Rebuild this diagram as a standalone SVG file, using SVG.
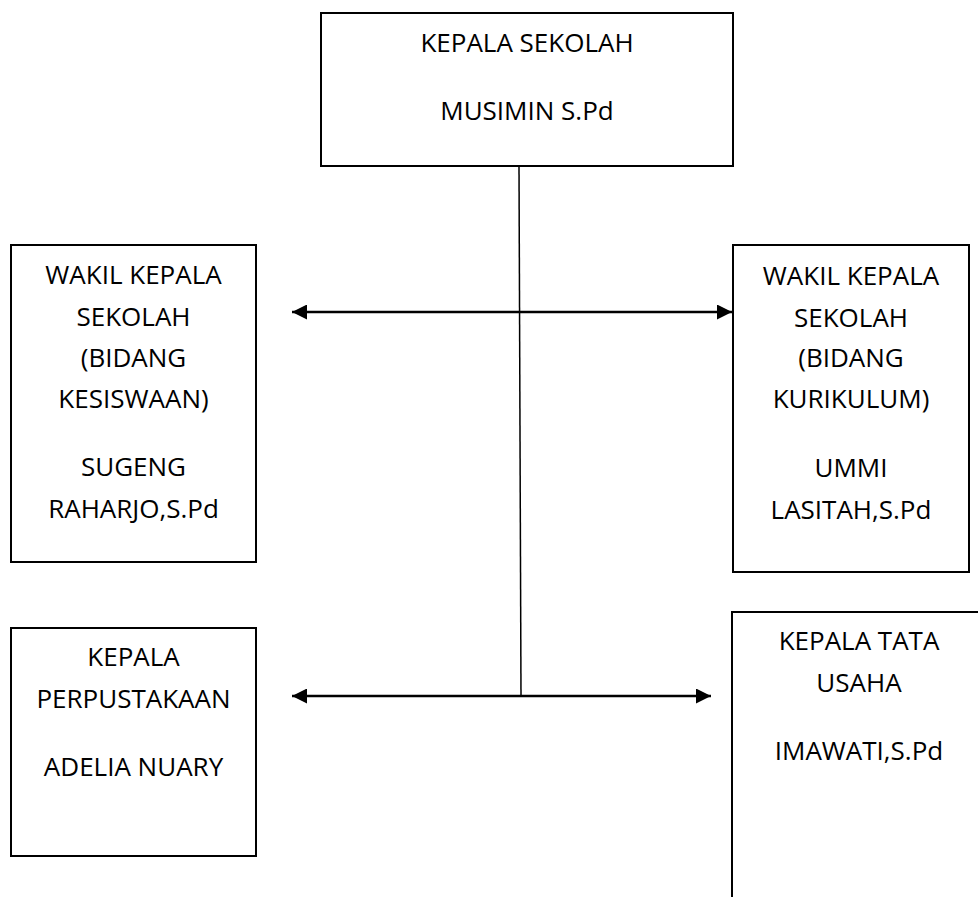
<svg xmlns="http://www.w3.org/2000/svg" width="978" height="897" viewBox="0 0 978 897">
<style>
.box{fill:#fff;stroke:#000;stroke-width:2}
.t{font-family:"Open Sans","Noto Sans",sans-serif;font-size:26px;fill:#000;text-anchor:middle}
.ln{stroke:#000;stroke-width:1.5;fill:none}
.ar{stroke:#000;stroke-width:2.5;fill:none}
</style>
<defs>
<marker id="ah" markerUnits="userSpaceOnUse" viewBox="0 0 15 15" markerWidth="15" markerHeight="15" refX="15" refY="7.5" orient="auto-start-reverse">
<path d="M0,0 L15,7.5 L0,15 Z" fill="#000"/>
</marker>
</defs>
<rect width="978" height="897" fill="#fff"/>
<g id="connectors">
<line class="ln" x1="519" y1="166" x2="521" y2="696"/>
<line class="ar" x1="292" y1="312" x2="732" y2="312" marker-start="url(#ah)" marker-end="url(#ah)"/>
<line class="ar" x1="292" y1="696" x2="711" y2="696" marker-start="url(#ah)" marker-end="url(#ah)"/>
</g>
<g id="kepala-sekolah">
<rect class="box" x="321" y="13" width="412" height="153"/>
<text class="t" x="527" y="52">KEPALA SEKOLAH</text>
<text class="t" x="527" y="120">MUSIMIN S.Pd</text>
</g>
<g id="wakil-kesiswaan">
<rect class="box" x="11" y="245" width="245" height="317"/>
<text class="t" x="133.5" y="284">WAKIL KEPALA</text>
<text class="t" x="133.5" y="326">SEKOLAH</text>
<text class="t" x="133.5" y="367">(BIDANG</text>
<text class="t" x="133.5" y="408">KESISWAAN)</text>
<text class="t" x="133.5" y="476">SUGENG</text>
<text class="t" x="133.5" y="518">RAHARJO,S.Pd</text>
</g>
<g id="wakil-kurikulum">
<rect class="box" x="733" y="245" width="236" height="327"/>
<text class="t" x="851" y="285">WAKIL KEPALA</text>
<text class="t" x="851" y="327">SEKOLAH</text>
<text class="t" x="851" y="367">(BIDANG</text>
<text class="t" x="851" y="408">KURIKULUM)</text>
<text class="t" x="851" y="477">UMMI</text>
<text class="t" x="851" y="519">LASITAH,S.Pd</text>
</g>
<g id="kepala-perpustakaan">
<rect class="box" x="11" y="628" width="245" height="228"/>
<text class="t" x="133.5" y="666">KEPALA</text>
<text class="t" x="133.5" y="708">PERPUSTAKAAN</text>
<text class="t" x="133.5" y="776">ADELIA NUARY</text>
</g>
<g id="kepala-tata-usaha">
<rect class="box" x="732" y="612" width="260" height="300"/>
<text class="t" x="859" y="650">KEPALA TATA</text>
<text class="t" x="859" y="692">USAHA</text>
<text class="t" x="859" y="760">IMAWATI,S.Pd</text>
</g>
</svg>
